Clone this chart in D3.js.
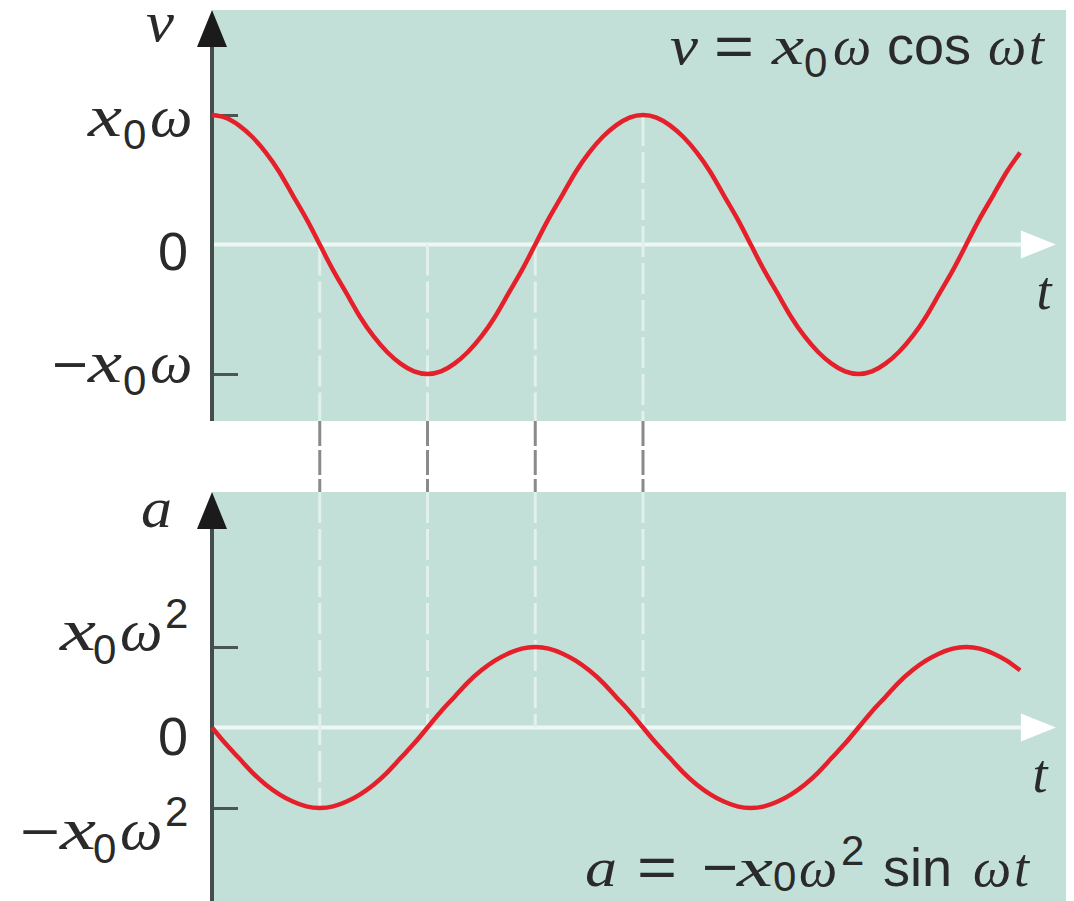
<!DOCTYPE html>
<html>
<head>
<meta charset="utf-8">
<script src="https://cdn.jsdelivr.net/npm/d3@7"></script>
<style>
  html, body { margin: 0; padding: 0; background: #ffffff; }
  svg { display: block; }
</style>
</head>
<body>
<script>
// ---- data ----
// time in units of one period T (samples every 1/32 period)
const tValues = [0, 0.03125, 0.0625, 0.09375, 0.125, 0.15625, 0.1875, 0.21875,
                 0.25, 0.28125, 0.3125, 0.34375, 0.375, 0.40625, 0.4375, 0.46875,
                 0.5, 0.53125, 0.5625, 0.59375, 0.625, 0.65625, 0.6875, 0.71875,
                 0.75, 0.78125, 0.8125, 0.84375, 0.875, 0.90625, 0.9375, 0.96875,
                 1, 1.03125, 1.0625, 1.09375, 1.125, 1.15625, 1.1875, 1.21875,
                 1.25, 1.28125, 1.3125, 1.34375, 1.375, 1.40625, 1.4375, 1.46875,
                 1.5, 1.53125, 1.5625, 1.59375, 1.625, 1.65625, 1.6875, 1.71875,
                 1.75, 1.78125, 1.8125, 1.84375, 1.875];
// velocity in units of x0*omega
const velocity = [1, 0.98, 0.92, 0.83, 0.71, 0.56, 0.38, 0.2,
                  0, -0.2, -0.38, -0.56, -0.71, -0.83, -0.92, -0.98,
                  -1, -0.98, -0.92, -0.83, -0.71, -0.56, -0.38, -0.2,
                  0, 0.2, 0.38, 0.56, 0.71, 0.83, 0.92, 0.98,
                  1, 0.98, 0.92, 0.83, 0.71, 0.56, 0.38, 0.2,
                  0, -0.2, -0.38, -0.56, -0.71, -0.83, -0.92, -0.98,
                  -1, -0.98, -0.92, -0.83, -0.71, -0.56, -0.38, -0.2,
                  0, 0.2, 0.38, 0.56, 0.71];
// acceleration in units of x0*omega^2
const acceleration = [0, -0.2, -0.38, -0.56, -0.71, -0.83, -0.92, -0.98,
                      -1, -0.98, -0.92, -0.83, -0.71, -0.56, -0.38, -0.2,
                      0, 0.2, 0.38, 0.56, 0.71, 0.83, 0.92, 0.98,
                      1, 0.98, 0.92, 0.83, 0.71, 0.56, 0.38, 0.2,
                      0, -0.2, -0.38, -0.56, -0.71, -0.83, -0.92, -0.98,
                      -1, -0.98, -0.92, -0.83, -0.71, -0.56, -0.38, -0.2,
                      0, 0.2, 0.38, 0.56, 0.71, 0.83, 0.92, 0.98,
                      1, 0.98, 0.92, 0.83, 0.71];
// guide lines (times) linking the two panels
const guideTimes = [0.25, 0.5, 0.75, 1];
const guideVel = [0, -1, 0, 1];
const guideAcc = [-1, 0, 1, 0];
const tickValues = [-1, 1];
const tAxisEnd = 1.9;

// ---- layout ----
const W = 1074, H = 901;
const panelX0 = 212, panelX1 = 1066;
const topP = { y0: 10, y1: 421, ymax: 115, ymin: 374 };
const botP = { y0: 492, y1: 901, ymax: 647, ymin: 808 };

const TEAL = "#c2e0d8", RED = "#e5202a", AXIS = "#434d49", GUIDE = "#e2f0eb", TXT = "#2a2a2a";
const SERIF = "'Liberation Serif', 'DejaVu Serif', serif";
const SANS = "'Liberation Sans', Arial, sans-serif";

const x = d3.scaleLinear().domain([0, 1]).range([212, 643]);
const yTop = d3.scaleLinear().domain([-1, 1]).range([topP.ymin, topP.ymax]);
const yBot = d3.scaleLinear().domain([-1, 1]).range([botP.ymin, botP.ymax]);

const svg = d3.select("body").append("svg").attr("width", W).attr("height", H);

// panels
[topP, botP].forEach(p => {
  svg.append("rect").attr("x", panelX0).attr("y", p.y0)
    .attr("width", panelX1 - panelX0).attr("height", p.y1 - p.y0).attr("fill", TEAL);
});

// guide dashed lines in gap (gray)
guideTimes.forEach(t => {
  svg.append("line").attr("x1", x(t)).attr("x2", x(t)).attr("y1", topP.y1).attr("y2", botP.y0)
    .attr("stroke", "#8a8a8a").attr("stroke-width", 3).attr("stroke-dasharray", "25,4");
});

// t axes (white)
function tAxis(yScale, labelX, labelY) {
  const y0 = yScale(0);
  svg.append("line").attr("x1", panelX0).attr("x2", x(tAxisEnd) - 10)
    .attr("y1", y0).attr("y2", y0).attr("stroke", "#eef7f4").attr("stroke-width", 4);
  const tip = x(tAxisEnd) + 25;
  svg.append("path")
    .attr("d", `M${tip},${y0} L${tip - 35},${y0 - 14} L${tip - 35},${y0 + 14} Z`)
    .attr("fill", "#ffffff");
  svg.append("text").attr("x", labelX).attr("y", labelY).attr("text-anchor", "middle")
    .attr("font-family", SERIF).attr("font-style", "italic").attr("font-size", 54)
    .attr("fill", TXT).text("t");
}
tAxis(yTop, 1044, 309);
tAxis(yBot, 1040, 792);

// guide dashed lines inside panels (white)
guideTimes.forEach((t, i) => {
  svg.append("line").attr("x1", x(t)).attr("x2", x(t))
    .attr("y1", yTop(Math.max(guideVel[i], 0))).attr("y2", topP.y1)
    .attr("stroke", GUIDE).attr("stroke-width", 3).attr("stroke-dasharray", "31,6");
  svg.append("line").attr("x1", x(t)).attr("x2", x(t))
    .attr("y1", botP.y0).attr("y2", yBot(Math.min(guideAcc[i], 0)))
    .attr("stroke", GUIDE).attr("stroke-width", 3).attr("stroke-dasharray", "31,6");
});

// y axes with ticks
function yAxis(yScale, p) {
  const g = svg.append("g").attr("transform", `translate(${panelX0},0)`);
  g.call(d3.axisLeft(yScale).tickValues(tickValues).tickSizeInner(-26).tickSizeOuter(0).tickFormat(""));
  g.select(".domain").remove();
  g.selectAll(".tick line").attr("stroke", "#4a5652").attr("stroke-width", 3);
  svg.append("line").attr("x1", panelX0).attr("x2", panelX0).attr("y1", p.y0 + 30).attr("y2", p.y1)
    .attr("stroke", AXIS).attr("stroke-width", 4);
  svg.append("path")
    .attr("d", `M${panelX0},${p.y0} L${panelX0 - 15},${p.y0 + 37} L${panelX0 + 15},${p.y0 + 37} Z`)
    .attr("fill", "#1b1b1b");
}
yAxis(yTop, topP);
yAxis(yBot, botP);

// curves
const lineTop = d3.line().x((d, i) => x(tValues[i])).y(d => yTop(d)).curve(d3.curveNatural);
const lineBot = d3.line().x((d, i) => x(tValues[i])).y(d => yBot(d)).curve(d3.curveNatural);
svg.append("path").attr("d", lineTop(velocity)).attr("fill", "none").attr("stroke", RED)
  .attr("stroke-width", 4.5).attr("stroke-linecap", "butt");
svg.append("path").attr("d", lineBot(acceleration)).attr("fill", "none").attr("stroke", RED)
  .attr("stroke-width", 4.5).attr("stroke-linecap", "butt");

// rich text helper: each part has its own x, y (absolute); optional stretched width
function rich(parts) {
  const t = svg.append("text").attr("fill", TXT).attr("text-anchor", "start");
  parts.forEach(p => {
    const s = t.append("tspan").text(p.t)
      .attr("x", p.x).attr("y", p.y)
      .attr("font-family", p.f === "s" ? SANS : SERIF)
      .attr("font-style", p.f === "s" ? "normal" : "italic")
      .attr("font-size", p.size);
    if (p.w) s.attr("textLength", p.w).attr("lengthAdjust", "spacingAndGlyphs");
  });
  return t;
}

// tick labels - top panel
const BIG = 60, SUB = 42, NUM = 54;
rich([
  { t: "x", f: "i", size: BIG, x: 88, y: 136, w: 34 },
  { t: "0", f: "s", size: SUB, x: 123, y: 149 },
  { t: "ω", f: "i", size: BIG, x: 150, y: 136 }
]);
rich([{ t: "0", f: "s", size: NUM, x: 158, y: 270 }]);
rich([
  { t: "−", f: "s", size: NUM, x: 52, y: 383, w: 36 },
  { t: "x", f: "i", size: BIG, x: 88, y: 382, w: 34 },
  { t: "0", f: "s", size: SUB, x: 123, y: 395 },
  { t: "ω", f: "i", size: BIG, x: 150, y: 382 }
]);

// tick labels - bottom panel
rich([
  { t: "x", f: "i", size: BIG, x: 60, y: 650, w: 36 },
  { t: "0", f: "s", size: SUB, x: 93, y: 664 },
  { t: "ω", f: "i", size: BIG, x: 120, y: 650 },
  { t: "2", f: "s", size: SUB, x: 165, y: 628 }
]);
rich([{ t: "0", f: "s", size: NUM, x: 158, y: 755 }]);
rich([
  { t: "−", f: "s", size: NUM, x: 20, y: 850, w: 40 },
  { t: "x", f: "i", size: BIG, x: 60, y: 849, w: 36 },
  { t: "0", f: "s", size: SUB, x: 93, y: 863 },
  { t: "ω", f: "i", size: BIG, x: 120, y: 849 },
  { t: "2", f: "s", size: SUB, x: 165, y: 826 }
]);

// axis labels
rich([{ t: "v", f: "i", size: 56, x: 146, y: 41, w: 28 }]);
rich([{ t: "a", f: "i", size: 56, x: 141, y: 527, w: 31 }]);

// formulas
const F = 54, FS = 42;
rich([
  { t: "v", f: "i", size: F, x: 670, y: 64, w: 28 },
  { t: "=", f: "s", size: F + 4, x: 714, y: 66, w: 40 },
  { t: "x", f: "i", size: F, x: 772, y: 64, w: 32 },
  { t: "0", f: "s", size: FS, x: 804, y: 77 },
  { t: "ω", f: "i", size: F, x: 833, y: 64 },
  { t: "cos", f: "s", size: F, x: 887, y: 64 },
  { t: "ω", f: "i", size: F, x: 988, y: 64 },
  { t: "t", f: "i", size: F, x: 1029, y: 64 }
]);
rich([
  { t: "a", f: "i", size: F, x: 585, y: 886, w: 32 },
  { t: "=", f: "s", size: F + 4, x: 637, y: 887, w: 40 },
  { t: "−", f: "s", size: F + 4, x: 702, y: 887, w: 36 },
  { t: "x", f: "i", size: F, x: 737, y: 886, w: 36 },
  { t: "0", f: "s", size: FS, x: 773, y: 891 },
  { t: "ω", f: "i", size: F, x: 799, y: 886 },
  { t: "2", f: "s", size: FS, x: 841, y: 865 },
  { t: "sin", f: "s", size: F, x: 883, y: 886 },
  { t: "ω", f: "i", size: F, x: 973, y: 886 },
  { t: "t", f: "i", size: F, x: 1014, y: 886 }
]);
</script>
</body>
</html>
